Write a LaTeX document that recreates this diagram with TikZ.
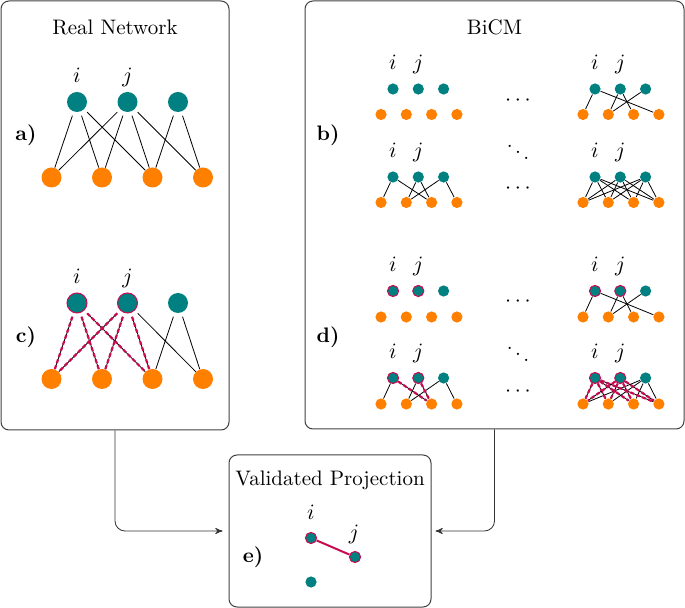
\documentclass[tikz,border=0pt]{standalone}
\usetikzlibrary{arrows}

\definecolor{nodeteal}{RGB}{0,128,128}
\definecolor{nodeorange}{RGB}{255,128,0}
\definecolor{sigred}{RGB}{200,12,82}

\begin{document}
\begin{tikzpicture}[x=0.5pt,y=-0.5pt,>=stealth',
  every node/.style={font=\fontsize{10.5}{12.6}\selectfont},
  panel/.style={draw=black!75,line width=0.5pt,rounded corners=4pt,inner sep=0pt},
  top node/.style={circle,fill=nodeteal,inner sep=0pt,minimum size=10pt},
  bot node/.style={circle,fill=nodeorange,inner sep=0pt,minimum size=10pt},
  little/.style={minimum size=5.6pt},
  chosen/.style={draw=sigred,line width=0.5pt},
  unchosen/.style={},
  link/.style={draw=black,line width=0.4pt},
  valid link/.style={link,postaction={draw=sigred,line width=1.1pt,dash pattern=on 2pt off 1.2pt}},
  tag/.style={anchor=base,inner sep=0pt},
  letter/.style={font=\fontsize{10.5}{12.6}\selectfont\bfseries}]

 \useasboundingbox (0,0) rectangle (685,608);

 % panels and titles
 \node[panel,minimum width=114pt,minimum height=214.5pt] (real) at (115,215.5) {};
 \node[panel,minimum width=189.5pt,minimum height=214pt] (bicm) at (494.5,215) {};
 \node[panel,minimum width=101pt,minimum height=76pt] (valid) at (330,531) {};
 \node (real title) at (115,27) {Real Network};
 \node (bicm title) at (494.5,27) {BiCM};
 \node (valid title) at (330,480) {Validated Projection};

 \node[letter] (la) at (26,135) {a)};
 \node[letter] (lc) at (26,337) {c)};
 \node[letter] (lb) at (328,135) {b)};
 \node[letter] (ld) at (328,337) {d)};
 \node[letter] (le) at (253,557) {e)};

 % a) real network
 \begin{scope}[shift={(77,102)},name prefix=a-]
  \foreach \n in {1,2,3}
   \node[top node] (t\n) at ({50.5*(\n-1)},0) {};
  \foreach \n in {1,...,4}
   \node[bot node] (b\n) at ({50.5*\n-76},75.5) {};
  \node[tag] (i) at (0,-19) {$i$};
  \node[tag] (j) at (50.5,-19) {$j$};
  \foreach \a/\b in {1/1,1/2,1/3,2/1,2/2,2/3,2/4,3/3,3/4}
   \draw[link,shorten <=2pt] (t\a) -- (b\b);
 \end{scope}

 % c) common neighbours of i and j
 \begin{scope}[shift={(77,303)},name prefix=c-]
  \foreach \n/\s in {1/chosen,2/chosen,3/unchosen}
   \node[top node,\s] (t\n) at ({50.5*(\n-1)},0) {};
  \foreach \n in {1,...,4}
   \node[bot node] (b\n) at ({50.5*\n-76},76) {};
  \node[tag] (i) at (0,-19) {$i$};
  \node[tag] (j) at (50.5,-19) {$j$};
  \foreach \a/\b in {2/4,3/3,3/4}
   \draw[link,shorten <=2pt] (t\a) -- (b\b);
  \foreach \a/\b in {1/1,1/2,1/3,2/1,2/2,2/3}
   \draw[valid link,shorten <=2pt] (t\a) -- (b\b);
 \end{scope}

 % b) ensemble samples
 \begin{scope}[shift={(393,89)},name prefix=bl1-]
  \foreach \n in {1,2,3}
   \node[top node,little] (t\n) at ({25.3*(\n-1)},0) {};
  \foreach \n in {1,...,4}
   \node[bot node,little] (b\n) at ({25.3*\n-37.3},25.5) {};
  \node[tag] (i) at (0,-19) {$i$};
  \node[tag] (j) at (25.3,-19) {$j$};
 \end{scope}

 \begin{scope}[shift={(393,177)},name prefix=bl2-]
  \foreach \n in {1,2,3}
   \node[top node,little] (t\n) at ({25.3*(\n-1)},0) {};
  \foreach \n in {1,...,4}
   \node[bot node,little] (b\n) at ({25.3*\n-37.3},25.5) {};
  \node[tag] (i) at (0,-19) {$i$};
  \node[tag] (j) at (25.3,-19) {$j$};
  \foreach \a/\b in {1/1,1/3,2/2,2/3,3/2,3/4}
   \draw[link] (t\a) -- (b\b);
 \end{scope}

 \begin{scope}[shift={(595,89)},name prefix=br1-]
  \foreach \n in {1,2,3}
   \node[top node,little] (t\n) at ({25.3*(\n-1)},0) {};
  \foreach \n in {1,...,4}
   \node[bot node,little] (b\n) at ({25.3*\n-37.3},25.5) {};
  \node[tag] (i) at (0,-19) {$i$};
  \node[tag] (j) at (25.3,-19) {$j$};
  \foreach \a/\b in {1/1,1/4,2/2,2/3,3/2}
   \draw[link] (t\a) -- (b\b);
 \end{scope}

 \begin{scope}[shift={(595,177)},name prefix=br2-]
  \foreach \n in {1,2,3}
   \node[top node,little] (t\n) at ({25.3*(\n-1)},0) {};
  \foreach \n in {1,...,4}
   \node[bot node,little] (b\n) at ({25.3*\n-37.3},25.5) {};
  \node[tag] (i) at (0,-19) {$i$};
  \node[tag] (j) at (25.3,-19) {$j$};
  \foreach \a in {1,2,3}
   \foreach \b in {1,...,4}
    \draw[link] (t\a) -- (b\b);
 \end{scope}

 \node (bdots1) at (518,101) {$\cdots$};
 \node (bdots2) at (518,146) {$\ddots$};
 \node (bdots3) at (518,189) {$\cdots$};

 % d) validated links in the samples
 \begin{scope}[shift={(393,291)},name prefix=dl1-]
  \foreach \n/\s in {1/chosen,2/chosen,3/unchosen}
   \node[top node,little,\s] (t\n) at ({25.3*(\n-1)},0) {};
  \foreach \n in {1,...,4}
   \node[bot node,little] (b\n) at ({25.3*\n-37.3},26) {};
  \node[tag] (i) at (0,-19) {$i$};
  \node[tag] (j) at (25.3,-19) {$j$};
 \end{scope}

 \begin{scope}[shift={(393,378)},name prefix=dl2-]
  \foreach \n/\s in {1/chosen,2/chosen,3/unchosen}
   \node[top node,little,\s] (t\n) at ({25.3*(\n-1)},0) {};
  \foreach \n in {1,...,4}
   \node[bot node,little] (b\n) at ({25.3*\n-37.3},26) {};
  \node[tag] (i) at (0,-19) {$i$};
  \node[tag] (j) at (25.3,-19) {$j$};
  \foreach \a/\b in {1/1,2/2,3/2,3/4}
   \draw[link] (t\a) -- (b\b);
  \foreach \a/\b in {1/3,2/3}
   \draw[valid link] (t\a) -- (b\b);
 \end{scope}

 \begin{scope}[shift={(595,291)},name prefix=dr1-]
  \foreach \n/\s in {1/chosen,2/chosen,3/unchosen}
   \node[top node,little,\s] (t\n) at ({25.3*(\n-1)},0) {};
  \foreach \n in {1,...,4}
   \node[bot node,little] (b\n) at ({25.3*\n-37.3},26) {};
  \node[tag] (i) at (0,-19) {$i$};
  \node[tag] (j) at (25.3,-19) {$j$};
  \foreach \a/\b in {1/1,1/4,2/2,2/3,3/2}
   \draw[link] (t\a) -- (b\b);
 \end{scope}

 \begin{scope}[shift={(595,378)},name prefix=dr2-]
  \foreach \n/\s in {1/chosen,2/chosen,3/unchosen}
   \node[top node,little,\s] (t\n) at ({25.3*(\n-1)},0) {};
  \foreach \n in {1,...,4}
   \node[bot node,little] (b\n) at ({25.3*\n-37.3},26) {};
  \node[tag] (i) at (0,-19) {$i$};
  \node[tag] (j) at (25.3,-19) {$j$};
  \foreach \b in {1,...,4}
   \draw[link] (t3) -- (b\b);
  \foreach \a in {1,2}
   \foreach \b in {1,...,4}
    \draw[valid link] (t\a) -- (b\b);
 \end{scope}

 \node (ddots1) at (518,302) {$\cdots$};
 \node (ddots2) at (518,348) {$\ddots$};
 \node (ddots3) at (518,392) {$\cdots$};

 % e) validated projection
 \node[top node,little,chosen] (ei) at (311,538) {};
 \node[top node,little,chosen] (ej) at (355,557) {};
 \node[top node,little] (ek) at (311,582) {};
 \node[tag] (ei tag) at (311,520) {$i$};
 \node[tag] (ej tag) at (354,539) {$j$};
 \draw[sigred,line width=1pt] (ei) -- (ej);

 % arrows into the projection
 \draw[->,black!80,rounded corners=5pt,shorten >=3pt] (real.south) |- (valid.west);
 \draw[->,black!80,rounded corners=5pt,shorten >=2pt] (bicm.south) |- (valid.east);

\end{tikzpicture}
\end{document}
